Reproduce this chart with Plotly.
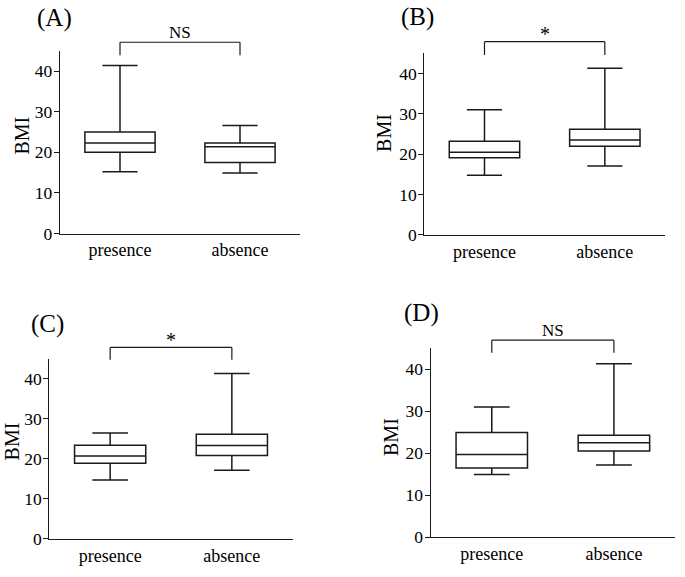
import plotly.graph_objects as go

# ---------------- data ----------------
categories = ["presence", "absence"]
panel_labels = ["(A)", "(B)", "(C)", "(D)"]
sig_labels = ["NS", "*", "*", "NS"]

lower_A = [15.2, 14.9]; q1_A = [20.0, 17.5]; med_A = [22.3, 21.4]; q3_A = [25.0, 22.3]; upper_A = [41.4, 26.6]
lower_B = [14.8, 17.1]; q1_B = [19.1, 22.0]; med_B = [20.5, 23.5]; q3_B = [23.2, 26.2]; upper_B = [31.0, 41.3]
lower_C = [14.7, 17.1]; q1_C = [18.9, 20.8]; med_C = [20.7, 23.3]; q3_C = [23.4, 26.1]; upper_C = [26.4, 41.3]
lower_D = [14.9, 17.2]; q1_D = [16.5, 20.5]; med_D = [19.7, 22.5]; q3_D = [24.9, 24.3]; upper_D = [31.0, 41.3]

y_ticks = [0, 10, 20, 30, 40]
y_title = "BMI"

panels_data = [
    (lower_A, q1_A, med_A, q3_A, upper_A),
    (lower_B, q1_B, med_B, q3_B, upper_B),
    (lower_C, q1_C, med_C, q3_C, upper_C),
    (lower_D, q1_D, med_D, q3_D, upper_D),
]

# ---------------- layout geometry (pixels) ----------------
W, H = 685, 577
# (x_left, x_right, y_zero, y_top) of each plot area
areas = [(60, 300, 237.7, 51.7), (424.3, 665, 239, 54.3),
         (49.3, 292.7, 548.3, 365), (430.7, 675, 546.7, 354.3)]
# bracket (top, end) heights in data units
brackets = [(47.1, 43.9), (47.9, 44.6), (47.8, 44.75), (46.9, 43.9)]
label_pos = [(54.5, 18), (417.5, 17), (47.5, 329.5), (421, 319)]
bmi_pos = [(22, 138), (383.3, 135), (11.7, 449.5), (391.2, 444.5)]
YMAX = 45

FONT = "Liberation Serif"
INK = "#1a1a1a"

fig = go.Figure()
layout = dict(width=W, height=H, margin=dict(l=0, r=0, t=0, b=0),
              paper_bgcolor="white", plot_bgcolor="white", showlegend=False,
              font=dict(family=FONT, color="black"))
shapes, annotations = [], []

for i, (lo, q1, med, q3, up) in enumerate(panels_data):
    n = "" if i == 0 else str(i + 1)
    xl, xr, y0, yt = areas[i]
    fig.add_trace(go.Box(
        x=categories, lowerfence=lo, q1=q1, median=med, q3=q3, upperfence=up,
        xaxis="x" + n, yaxis="y" + n, boxpoints=False,
        fillcolor="white", line=dict(color=INK, width=1.5),
        width=0.585, whiskerwidth=0.5, hoverinfo="skip"))
    layout["xaxis" + n] = dict(
        domain=[xl / W, xr / W], anchor="y" + n, type="category",
        range=[-0.5, 1.5], showline=True, linecolor=INK, linewidth=1.3,
        ticks="", showgrid=False, zeroline=False,
        tickfont=dict(family=FONT, size=18, color="black"))
    layout["yaxis" + n] = dict(
        domain=[1 - y0 / H, 1 - yt / H], anchor="x" + n,
        range=[0, YMAX], tickvals=y_ticks, showline=True, linecolor=INK,
        linewidth=1.3, ticks="outside", ticklen=5, tickwidth=1.2, tickcolor=INK,
        showgrid=False, zeroline=False, ticklabelstandoff=-2,
        tickfont=dict(family=FONT, size=17.5, color="black"))
    btop, bend = brackets[i]
    xr_ = "x" + n
    yr_ = "y" + n + " domain"
    for (xa, ya, xb, yb) in [(0, bend, 0, btop), (0, btop, 1, btop), (1, btop, 1, bend)]:
        shapes.append(dict(type="line", xref=xr_, yref=yr_,
                           x0=xa, y0=ya / YMAX, x1=xb, y1=yb / YMAX,
                           line=dict(color=INK, width=1.2)))
    sig = sig_labels[i]
    annotations.append(dict(
        text=sig, xref=xr_, yref=yr_, x=0.5, y=btop / YMAX,
        xanchor="center", yanchor="middle", yshift=(7.5 if sig == "*" else 10),
        showarrow=False, font=dict(family=FONT, size=(20 if sig == "*" else 17), color="black")))
    lx, ly = label_pos[i]
    annotations.append(dict(
        text=panel_labels[i], xref="paper", yref="paper", x=lx / W, y=1 - ly / H,
        xanchor="center", yanchor="middle", showarrow=False,
        font=dict(family=FONT, size=25, color="black")))
    bx, by = bmi_pos[i]
    annotations.append(dict(
        text=y_title, xref="paper", yref="paper", x=bx / W, y=1 - by / H,
        xanchor="center", yanchor="middle", textangle=-90, showarrow=False,
        font=dict(family=FONT, size=20, color="black")))

layout["shapes"] = shapes
layout["annotations"] = annotations
fig.update_layout(**layout)
fig.write_html("out.html", config={"displayModeBar": False},
               post_script="document.body.style.margin='0';document.body.style.padding='0';")
